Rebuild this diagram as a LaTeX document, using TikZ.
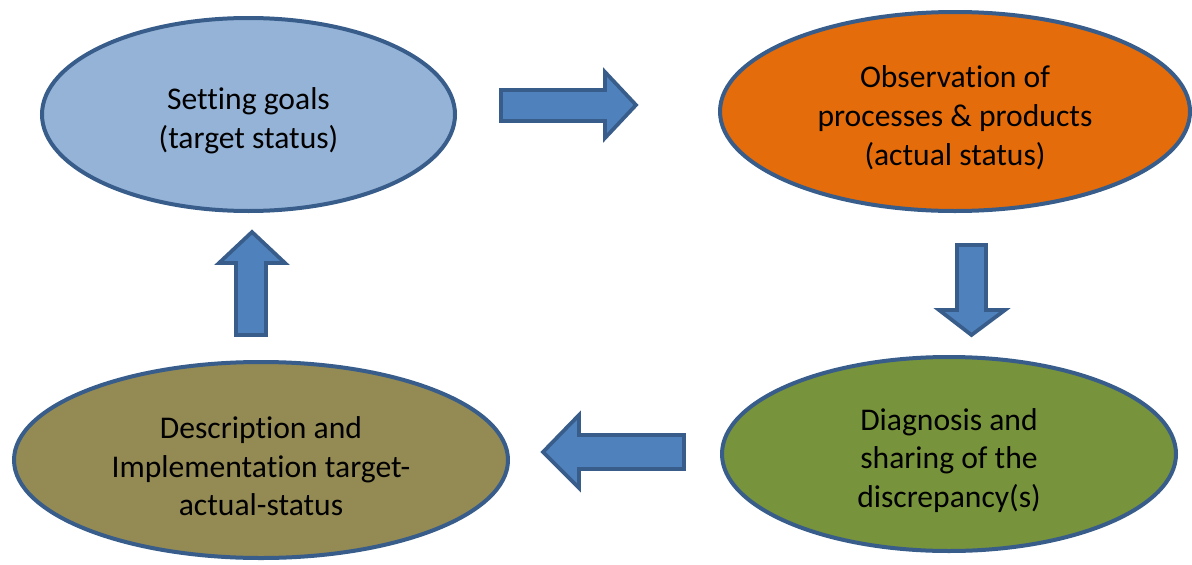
\documentclass[tikz,border=0pt]{standalone}
\usepackage{fontspec}
\setmainfont[Ligatures=NoCommon]{Carlito}
\usetikzlibrary{shapes.geometric}

\definecolor{rim}{HTML}{385D8A}
\definecolor{arrowblue}{HTML}{4F81BD}
\definecolor{goalblue}{HTML}{95B3D7}
\definecolor{observeorange}{HTML}{E46C0A}
\definecolor{diagnosegreen}{HTML}{77933C}
\definecolor{describeolive}{HTML}{948A54}

% extra room above the first line, so the text sits a little low
\newcommand{\toppad}{\rule{0pt}{26pt}}

\tikzset{
  stage/.style={ellipse, draw=rim, line width=3pt, align=center, inner sep=0pt,
    font=\fontsize{23.7}{29}\selectfont},
  blockarrow/.style={draw=rim, fill=arrowblue, line width=2.8pt, line join=miter}
}

\begin{document}
\begin{tikzpicture}[x=0.75pt, y=-0.75pt]
  \useasboundingbox (0,0) rectangle (1192,564);

  \node[stage, fill=goalblue, minimum width=413*0.75pt, minimum height=193*0.75pt]
    (goals) at (248.5,114.5) {\toppad Setting goals\\(target status)};
  \node[stage, fill=observeorange, minimum width=470*0.75pt, minimum height=199*0.75pt]
    (observe) at (955,111.5) {\toppad Observation of\\processes \& products\\(actual status)};
  \node[stage, fill=diagnosegreen, minimum width=454*0.75pt, minimum height=194*0.75pt]
    (diagnose) at (949,454) {\toppad Diagnosis and\\sharing of the\\discrepancy(s)};
  \node[stage, fill=describeolive, minimum width=494*0.75pt, minimum height=196*0.75pt]
    (describe) at (261,460) {\toppad Description and\\Implementation target-\\actual-status};

  % goals -> observe
  \draw[blockarrow] (501,90) -- (605,90) -- (605,72) -- (636,105) -- (605,138)
    -- (605,121) -- (501,121) -- cycle;
  % observe -> diagnose
  \draw[blockarrow] (957,245) -- (986,245) -- (986,310) -- (1005,310) -- (971.5,335)
    -- (939,310) -- (957,310) -- cycle;
  % diagnose -> describe
  \draw[blockarrow] (684,435) -- (579,435) -- (579,415) -- (543,452) -- (579,488)
    -- (579,469) -- (684,469) -- cycle;
  % describe -> goals
  \draw[blockarrow] (236,335) -- (236,263) -- (219,263) -- (252,232) -- (285,263)
    -- (266,263) -- (266,335) -- cycle;
\end{tikzpicture}
\end{document}
